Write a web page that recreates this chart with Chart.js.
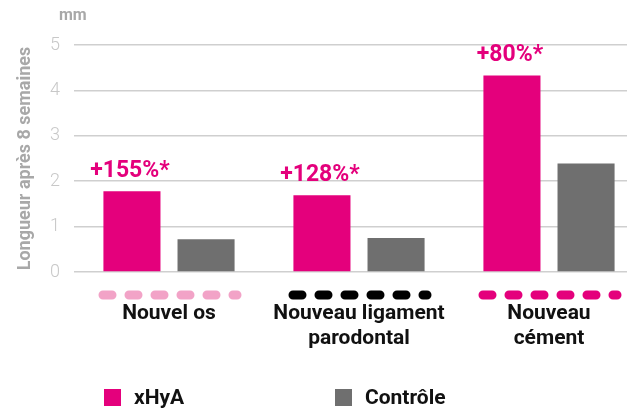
<!DOCTYPE html>
<html>
<head>
<meta charset="utf-8">
<script src="https://cdn.jsdelivr.net/npm/chart.js@4"></script>
<style>
  html, body { margin: 0; padding: 0; background: #fff; overflow: hidden; }
  #wrap { position: relative; width: 627px; height: 412px; overflow: hidden; }
  #box { position: absolute; left: 0; top: 0; width: 646px; height: 412px; }
  #legend { position: absolute; top: 385px; left: 0; font: 700 21px Roboto, sans-serif; color: #111; }
  #legend .item { position: absolute; white-space: nowrap; display: flex; align-items: center; }
  #legend .sw { width: 17px; height: 17px; margin-right: 13px; }
</style>
</head>
<body>
<div id="wrap">
  <div id="box"><canvas id="chart" width="646" height="412"></canvas></div>
  <div id="legend"></div>
</div>
<script>
// data
const categories = [['Nouvel os'], ['Nouveau ligament', 'parodontal'], ['Nouveau', 'cément']];
const xhyaValues = [1.78, 1.69, 4.33];
const controleValues = [0.72, 0.75, 2.39];
const gainLabels = ['+155%*', '+128%*', '+80%*'];
const seriesNames = ['xHyA', 'Contrôle'];
const yTicks = [0, 1, 2, 3, 4, 5];

const MAGENTA = '#e4007c';
const GREY = '#6f6f6f';
const dashColors = ['#f2a3c7', '#000000', '#e4007c'];

// draws "mm", the % labels above the xHyA bars and the dotted strokes under each group
const extras = {
  id: 'extras',
  afterDraw(chart) {
    const ctx = chart.ctx;
    const x = chart.scales.x;
    const y = chart.scales.y;
    ctx.save();

    ctx.fillStyle = '#a8a8a8';
    ctx.font = '700 16px Roboto, sans-serif';
    ctx.textAlign = 'left';
    ctx.textBaseline = 'middle';
    ctx.fillText('mm', 59, 16);

    const bars = chart.getDatasetMeta(0).data;
    ctx.fillStyle = MAGENTA;
    ctx.font = '700 23px Roboto, sans-serif';
    ctx.textAlign = 'center';
    ctx.textBaseline = 'alphabetic';
    bars.forEach((b, i) => ctx.fillText(gainLabels[i], b.x - 2, b.y - 14));

    ctx.lineWidth = 9;
    ctx.lineCap = 'round';
    ctx.setLineDash([9, 17]);
    categories.forEach((c, i) => {
      const cx = x.getPixelForValue(i);
      ctx.strokeStyle = dashColors[i];
      ctx.beginPath();
      ctx.moveTo(cx - 66, y.bottom + 23);
      ctx.lineTo(cx + 68, y.bottom + 23);
      ctx.stroke();
    });
    ctx.restore();
  }
};

new Chart(document.getElementById('chart'), {
  type: 'bar',
  data: {
    labels: categories,
    datasets: [
      { label: seriesNames[0], data: xhyaValues, backgroundColor: MAGENTA },
      { label: seriesNames[1], data: controleValues, backgroundColor: GREY }
    ]
  },
  options: {
    responsive: false,
    animation: false,
    devicePixelRatio: 1,
    layout: { padding: { top: 45, left: 15, right: 2, bottom: 0 } },
    datasets: { bar: { categoryPercentage: 0.78, barPercentage: 0.77 } },
    plugins: { legend: { display: false }, tooltip: { enabled: false } },
    scales: {
      x: {
        grid: { display: false },
        border: { display: false },
        ticks: {
          color: '#111',
          padding: 21,
          maxRotation: 0,
          font: { family: 'Roboto', weight: 700, size: 21, lineHeight: 1.2 }
        },
        afterFit(scale) { scale.height = 140; }
      },
      y: {
        min: 0,
        max: 5,
        afterBuildTicks(scale) { scale.ticks = yTicks.map(v => ({ value: v })); },
        grid: { color: '#cfcfcf', lineWidth: 1.5, drawTicks: false },
        border: { display: false },
        ticks: {
          color: '#c8c8c8',
          padding: 14,
          font: { family: 'Roboto', weight: 300, size: 18 }
        },
        title: {
          display: true,
          text: 'Longueur après 8 semaines',
          color: '#a8a8a8',
          padding: { top: 0, bottom: 0, y: 0 },
          font: { family: 'Roboto', weight: 700, size: 18 }
        },
        afterFit(scale) { scale.width = 59; }
      }
    }
  },
  plugins: [extras]
});

// HTML legend
const legend = document.getElementById('legend');
const legendX = [104, 335];
[MAGENTA, GREY].forEach((col, i) => {
  const it = document.createElement('div');
  it.className = 'item';
  it.style.left = legendX[i] + 'px';
  it.innerHTML = '<span class="sw" style="background:' + col + '"></span>' + seriesNames[i];
  legend.appendChild(it);
});
</script>
</body>
</html>
